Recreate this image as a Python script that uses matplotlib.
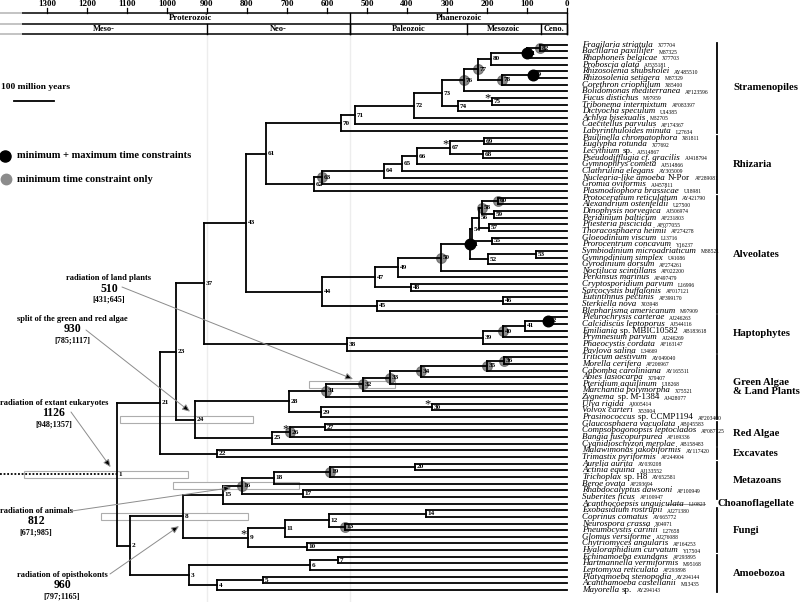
import matplotlib.pyplot as plt
from matplotlib.collections import LineCollection
from matplotlib.patches import Rectangle

# ---------------- data ----------------
leaf_names = [
    'Fragilaria striatula', 'Bacillaria paxillifer', 'Rhaphoneis belgicae', 'Proboscia alata',
    'Rhizosolenia shubsholei', 'Rhizosolenia setigera', 'Corethron criophilum',
    'Bolidomonas mediterranea', 'Fucus distichus', 'Tribonema intermixtum', 'Dictyocha speculum',
    'Achlya bisexualis', 'Caecitellus parvulus', 'Labyrinthuloides minuta',
    'Paulinella chromatophora', 'Euglypha rotunda', 'Lecythium', 'Pseudodifflugia cf. gracilis',
    'Gymnophrys cometa', 'Clathrulina elegans', 'Nuclearia-like amoeba', 'Gromia oviformis',
    'Plasmodiophora brassicae',
    'Protoceratium reticulatum', 'Alexandrium ostenfeldii', 'Dinophysis norvegica',
    'Peridinium balticum', 'Pfiesteria piscicida', 'Thoracosphaera heimii', 'Gloeodinium viscum',
    'Prorocentrum concavum', 'Symbiodinium microadriaticum', 'Gymnodinium simplex',
    'Gyrodinium dorsum', 'Noctiluca scintillans', 'Perkinsus marinus', 'Cryptosporidium parvum',
    'Sarcocystis buffalonis', 'Eutintinnus pectinis', 'Sterkiella nova', 'Blepharisma americanum',
    'Pleurochrysis carterae', 'Calcidiscus leptoporus', 'Emiliania', 'Prymnesium parvum',
    'Phaeocystis cordata', 'Pavlova salina',
    'Triticum aestivum', 'Morella cerifera', 'Cabomba caroliniana', 'Abies lasiocarpa',
    'Pteridium aquilinum', 'Marchantia polymorpha', 'Zygnema', 'Ulva rigida', 'Volvox carteri',
    'Prasinococcus',
    'Glaucosphaera vacuolata', 'Compsopogonopsis leptoclados', 'Bangia fuscopurpurea',
    'Cyanidioschyzon merolae',
    'Malawimonas jakobiformis', 'Trimastix pyriformis',
    'Aurelia aurita', 'Actinia equina', 'Trichoplax', 'Beroe ovata', 'Rhabdocalyptus dawsoni',
    'Suberites ficus',
    'Acanthocoepsis unguiculata',
    'Exobasidium rostrupii', 'Coprinus comatus', 'Neurospora crassa', 'Pneumocystis carinii',
    'Glomus versiforme', 'Chytriomyces angularis', 'Hyaloraphidium curvatum',
    'Echinamoeba exundans', 'Hartmannella vermiformis', 'Leptomyxa reticulata',
    'Platyamoeba stenopodia', 'Acanthamoeba castellanii', 'Mayorella',
]
leaf_acc = [
    'X77704', 'M87325', 'X77703', 'AJ535181', 'AY485510', 'M87329', 'X85400', 'AF123596',
    'M97959', 'AF083397', 'U14385', 'M32705', 'AF174367', 'L27634',
    'X81811', 'X77692', 'AJ514867', 'AJ418794', 'AJ514866', 'AY305009', 'AF289081', 'AJ457811',
    'U18981',
    'AY421790', 'U27500', 'AJ506974', 'AF231803', 'AF077055', 'AF274278', 'L13716', 'Y16237',
    'M88521', 'U41086', 'AF274261', 'AF022200', 'AF497479', 'L16996', 'AF017121', 'AF399170',
    'X03948', 'M97909',
    'AJ246263', 'AJ544116', 'AB183618', 'AJ246269', 'AF163147', 'L34669',
    'AY049040', 'AF206967', 'AY165511', 'X79407', 'U18268', 'X75521', 'AJ428077', 'AJ005414',
    'X53904', 'AF203400',
    'AB045583', 'AF087125', 'AF169336', 'AB158483',
    'AY117420', 'AF244904',
    'AY039208', 'AJ133552', 'AY652581', 'AF293694', 'AF100949', 'AF100947',
    'L10823',
    'AJ271380', 'AY665772', 'X04971', 'L27658', 'AJ276088', 'AF164253', 'Y17504',
    'AF293895', 'M95168', 'AF293898', 'AY294144', 'M13435', 'AY294143',
]
leaf_roman = {'Lecythium': 'sp.', 'Nuclearia-like amoeba': 'N-Por', 'Emiliania': 'sp. MBIC10582',
              'Zygnema': 'sp. M-1384', 'Prasinococcus': 'sp. CCMP1194', 'Trichoplax': 'sp. H8',
              'Mayorella': 'sp.'}

group_names = ['Stramenopiles', 'Rhizaria', 'Alveolates', 'Haptophytes',
               'Green Algae\n& Land Plants', 'Red Algae', 'Excavates', 'Metazoans',
               'Choanoflagellate', 'Fungi', 'Amoebozoa']
group_first = [1, 15, 24, 42, 48, 58, 62, 64, 70, 71, 78]
group_last = [14, 23, 41, 47, 57, 61, 63, 69, 70, 77, 83]

# internal nodes: children ('L#' = leaf number, top to bottom) and age in Ma
node_children = {
    1: [21, 2], 21: [23, 22], 23: [37, 24], 37: [43, 38], 43: [61, 44],
    61: [70, 62], 70: [71, 'L14'], 71: [72, 'L13'], 72: [73, 'L12'], 73: [76, 74],
    76: [77, 'L8'], 77: [80, 78], 80: [81, 'L4'], 81: [82, 'L3'], 82: ['L1', 'L2'],
    78: [79, 'L7'], 79: ['L5', 'L6'], 74: [75, 'L11'], 75: ['L9', 'L10'],
    62: [63, 'L23'], 63: [64, 'L22'], 64: [65, 'L21'], 65: [66, 'L20'], 66: [67, 'L19'],
    67: [69, 68], 69: ['L15', 'L16'], 68: ['L17', 'L18'],
    44: [47, 45], 47: [49, 48], 49: [50, 'L36'], 50: [51, 'L35'], 51: [54, 52],
    54: [56, 55], 56: [58, 57], 58: [60, 59], 60: ['L24', 'L25'], 59: ['L26', 'L27'],
    57: ['L28', 'L29'], 55: ['L30', 'L31'], 52: [53, 'L34'], 53: ['L32', 'L33'],
    48: ['L37', 'L38'], 45: [46, 'L41'], 46: ['L39', 'L40'],
    38: [39, 'L47'], 39: [40, 'L46'], 40: [41, 'L45'], 41: [42, 'L44'], 42: ['L42', 'L43'],
    24: [28, 25], 28: [31, 29], 31: [32, 'L54'], 32: [33, 'L53'], 33: [34, 'L52'],
    34: [35, 'L51'], 35: [36, 'L50'], 36: ['L48', 'L49'], 29: [30, 'L57'], 30: ['L55', 'L56'],
    25: [26, 'L61'], 26: [27, 'L60'], 27: ['L58', 'L59'], 22: ['L62', 'L63'],
    2: [8, 3], 8: [15, 9], 15: [16, 'L70'], 16: [18, 17], 18: [19, 'L67'], 19: [20, 'L66'],
    20: ['L64', 'L65'], 17: ['L68', 'L69'], 9: [11, 10], 11: [12, 'L75'], 12: [14, 13],
    14: ['L71', 'L72'], 13: ['L73', 'L74'], 10: ['L76', 'L77'],
    3: [6, 4], 6: [7, 'L80'], 7: ['L78', 'L79'], 4: [5, 'L83'], 5: ['L81', 'L82'],
}
node_age = {
    1: 1126, 2: 1092, 3: 945, 4: 875, 5: 760, 6: 642, 7: 572, 8: 960, 9: 797, 10: 650,
    11: 705, 12: 595, 13: 555, 14: 352, 15: 860, 16: 812, 17: 660, 18: 732, 19: 592, 20: 380,
    21: 1017, 22: 875, 23: 977, 24: 930, 25: 737, 26: 692, 27: 605, 28: 695, 29: 615, 30: 337,
    31: 602, 32: 510, 33: 442, 34: 365, 35: 200, 36: 157, 37: 907, 38: 550, 39: 210, 40: 160,
    41: 105, 42: 47, 43: 802, 44: 612, 45: 475, 46: 160, 47: 480, 48: 390, 49: 422, 50: 315,
    51: 242, 52: 197, 53: 77, 54: 238, 55: 187, 56: 220, 57: 195, 58: 212, 59: 182, 60: 172,
    61: 752, 62: 632, 63: 612, 64: 457, 65: 412, 66: 375, 67: 292, 68: 210, 69: 207, 70: 565,
    71: 530, 72: 382, 73: 312, 74: 272, 75: 187, 76: 257, 77: 222, 78: 162, 79: 85, 80: 190,
    81: 100, 82: 68,
}
nodes_minmax = [81, 79, 51, 42]
nodes_min = [82, 77, 76, 78, 63, 60, 58, 50, 40, 36, 35, 34, 33, 32, 31, 26, 19, 16, 13]
nodes_star = [75, 67, 30, 26, 9]

calib_nodes = [32, 24, 1, 16, 8]
calib_titles = ['radiation of land plants', 'split of the green and red algae',
                'radiation of extant eukaryotes', 'radiation of animals',
                'radiation of opisthokonts']
calib_low = [431, 785, 948, 671, 797]
calib_high = [645, 1117, 1357, 985, 1165]

scale_ticks = list(range(1300, -1, -100))
eon_names = ['Proterozoic', 'Phanerozoic']
eon_bounds = [542, 0]
era_names = ['Meso-', 'Neo-', 'Paleozoic', 'Mesozoic', 'Ceno.']
era_bounds = [900, 542, 251, 65, 0]

# ---------------- layout helpers (pixel -> data) ----------------
W, H = 800, 602
X0, PXMA = 567.0, 0.4     # pixel of 0 Ma, pixels per Ma
Y0, ROW = 44.7, 6.65      # pixel of first leaf, pixels per leaf


def ax_x(px):
    return (X0 - px) / PXMA


def ax_y(py):
    return (py - Y0) / ROW


plt.rcParams['font.family'] = ['Liberation Serif', 'DejaVu Serif']
fig = plt.figure(figsize=(W / 100, H / 100), dpi=100)
ax = fig.add_axes([0, 0, 1, 1])
ax.set_xlim(ax_x(0), ax_x(W))
ax.set_ylim(ax_y(H), ax_y(0))
ax.axis('off')

node_y = {}


def get_y(c):
    if isinstance(c, str):
        return int(c[1:]) - 1
    if c not in node_y:
        node_y[c] = sum(get_y(k) for k in node_children[c]) / 2.0
    return node_y[c]


def get_age(c):
    return 0 if isinstance(c, str) else node_age[c]


# faint period lines
for b in (900, 542):
    ax.plot([b, b], [ax_y(34), ax_y(H)], color='0.93', lw=1.0, zorder=0)

# time scale header
for py in (13, 24, 34):
    ax.plot([ax_x(22), 0], [ax_y(py)] * 2, color='k', lw=1.1, solid_capstyle='butt')
    ax.plot([ax_x(0), ax_x(22)], [ax_y(py)] * 2, color='0.7', lw=1.1, solid_capstyle='butt')
for t in scale_ticks:
    ax.plot([t, t], [ax_y(13), ax_y(8.5)], color='k', lw=0.9)
    ax.text(t, ax_y(4), str(t), ha='center', va='center', fontsize=6.5, weight='bold')
for b in eon_bounds:
    ax.plot([b, b], [ax_y(13), ax_y(34)], color='k', lw=1.0)
for b in era_bounds:
    ax.plot([b, b], [ax_y(24), ax_y(34)], color='k', lw=1.0)
eon_left = [1340] + eon_bounds[:-1]
for name, lo, hi in zip(eon_names, eon_left, eon_bounds):
    ax.text((lo + hi) / 2, ax_y(18.5), name, ha='center', va='center', fontsize=6.3, weight='bold')
era_left = [ax_x(0)] + era_bounds[:-1]
for name, lo, hi in zip(era_names, era_left, era_bounds):
    ax.text((lo + hi) / 2, ax_y(29), name, ha='center', va='center', fontsize=6.0, weight='bold')

# confidence intervals of calibrated nodes
for n, lo, hi in zip(calib_nodes, calib_low, calib_high):
    hh = 7.0 / ROW
    ax.add_patch(Rectangle((hi, get_y(n) - hh / 2), lo - hi, hh, facecolor='white',
                           edgecolor='0.68', lw=0.8, zorder=1))

# tree branches
segs = []
for n, kids in node_children.items():
    x = node_age[n]
    ys = [get_y(k) for k in kids]
    segs.append([(x, min(ys)), (x, max(ys))])
    for k in kids:
        segs.append([(x, get_y(k)), (get_age(k), get_y(k))])
ax.add_collection(LineCollection(segs, colors='k', linewidths=1.3, capstyle='projecting',
                                 zorder=3))
ax.plot([ax_x(0), node_age[1]], [get_y(1)] * 2, color='k', lw=1.3, ls=(0, (1, 1)), zorder=3)

# constraint markers
for n in nodes_min:
    ax.plot(node_age[n], get_y(n), 'o', ms=6.8, color='#8c8c8c', mec='#777777', zorder=2)
for n in nodes_minmax:
    ax.plot(node_age[n], get_y(n), 'o', ms=7.6, color='k', zorder=4)
for n in nodes_star:
    ax.text(node_age[n] + 4.5 / PXMA, get_y(n) - 3.2 / ROW, '*', ha='center', va='center',
            fontsize=9, zorder=5)

# node numbers
for n in node_children:
    ax.text(node_age[n] - 1.5 / PXMA, get_y(n), str(n), ha='left', va='center',
            fontsize=5.2, weight='bold', zorder=5)

# leaf labels
for i, (name, acc) in enumerate(zip(leaf_names, leaf_acc)):
    t = ax.text(ax_x(582), i, name, ha='left', va='center', fontsize=6.5, style='italic')
    if name in leaf_roman:
        t = ax.annotate(leaf_roman[name], xy=(1, 0), xycoords=t, xytext=(2.0, 0),
                        textcoords='offset points', ha='left', va='bottom', fontsize=6.5)
    ax.annotate(acc, xy=(1, 0), xycoords=t, xytext=(3.5, 0.4), textcoords='offset points',
                ha='left', va='bottom', fontsize=4.0)

# group bars and names
for name, a, b in zip(group_names, group_first, group_last):
    ym = (a + b) / 2.0 - 1
    if a == b:
        ax.plot([ax_x(667), ax_x(705)], [a - 1] * 2, color='0.6', lw=0.7)
        ax.text(ax_x(717), ym, name, ha='left', va='center', fontsize=7.7, weight='bold')
        continue
    ax.plot([ax_x(717)] * 2, [a - 1 - 0.3, b - 1 + 0.3], color='k', lw=1.3)
    ax.text(ax_x(733), ym, name, ha='left', va='center', fontsize=7.7, weight='bold',
            linespacing=1.05)

# calibration annotations
text_pos = [(109, 278), (72, 319), (54, 403), (36, 511), (62, 575)]
arrow_from = [(122, 287), (86, 330), (71, 412), (72, 511), (110, 574)]
arrow_off = [(-10, -5), (-5, -8), (-6, -7), (-11, 2), (-4, 10)]
for n, title, lo, hi, tp, af, ao in zip(calib_nodes, calib_titles, calib_low, calib_high,
                                        text_pos, arrow_from, arrow_off):
    cx = ax_x(tp[0])
    ax.text(cx, ax_y(tp[1]), title, ha='center', va='center', fontsize=6, weight='bold')
    ax.text(cx, ax_y(tp[1] + 10.5), str(node_age[n]), ha='center', va='center', fontsize=8.5,
            weight='bold')
    ax.text(cx, ax_y(tp[1] + 21.5), '[%d;%d]' % (lo, hi), ha='center', va='center',
            fontsize=5.9, weight='bold')
    tip = (node_age[n] - ao[0] / PXMA, get_y(n) + ao[1] / ROW)
    ax.annotate('', xy=tip, xytext=(ax_x(af[0]), ax_y(af[1])),
                arrowprops=dict(arrowstyle='-|>,head_length=0.45,head_width=0.2',
                                ec='0.55', fc='k', lw=0.7, shrinkA=0, shrinkB=0), zorder=6)

# legend
ax.text(ax_x(1), ax_y(87), '100 million years', ha='left', va='center', fontsize=6.8,
        weight='bold')
ax.plot([ax_x(14), ax_x(14) - 100], [ax_y(101)] * 2, color='k', lw=1.3)
ax.plot(ax_x(5), ax_y(156), 'o', ms=8, color='k')
ax.text(ax_x(17), ax_y(156), 'minimum + maximum time constraints', ha='left', va='center',
        fontsize=7.6, weight='bold')
ax.plot(ax_x(6), ax_y(179), 'o', ms=7.5, color='#8c8c8c')
ax.text(ax_x(17), ax_y(179), 'minimum time constraint only', ha='left', va='center',
        fontsize=7.6, weight='bold')

fig.savefig('out.png', dpi=100)
